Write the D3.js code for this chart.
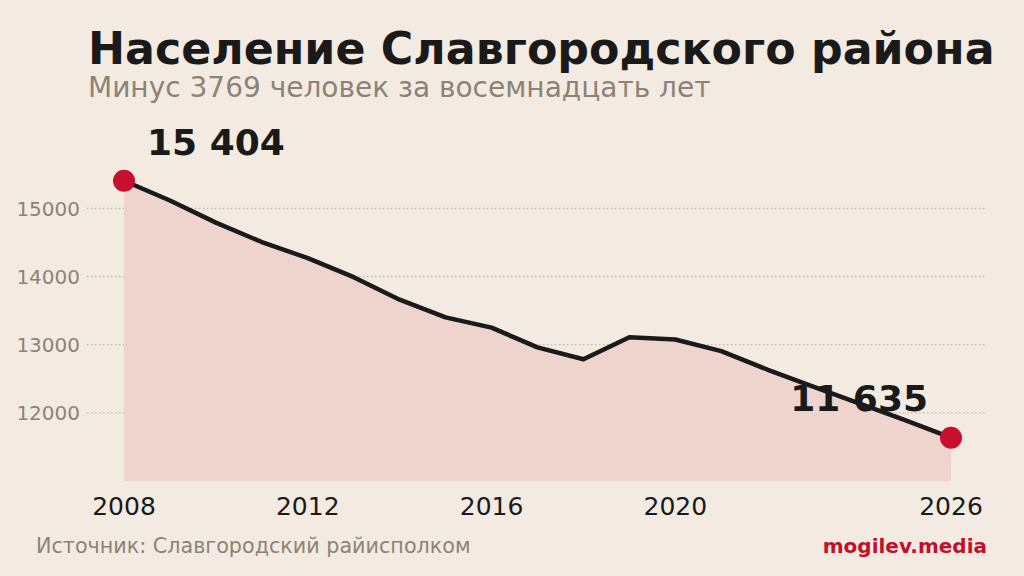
<!DOCTYPE html>
<html>
<head>
<meta charset="utf-8">
<script src="https://cdn.jsdelivr.net/npm/d3@7"></script>
<style>
  html, body { margin: 0; padding: 0; background: #f3ebe1; }
  svg { display: block; }
  text { font-family: "DejaVu Sans", sans-serif; }
</style>
</head>
<body>
<svg id="chart" width="1024" height="576"></svg>
<script>
const years = [2008, 2009, 2010, 2011, 2012, 2013, 2014, 2015, 2016, 2017, 2018, 2019, 2020, 2021, 2022, 2023, 2024, 2025, 2026];
const population = [15404, 15115, 14790, 14505, 14270, 13990, 13660, 13400, 13250, 12960, 12786, 13109, 13075, 12905, 12635, 12385, 12140, 11893, 11635];
const yTicks = [12000, 13000, 14000, 15000];
const xTicks = [2008, 2012, 2016, 2020, 2026];
const titleText = "Население Славгородского района";
const subtitleText = "Минус 3769 человек за восемнадцать лет";
const sourceText = "Источник: Славгородский райисполком";
const brandText = "mogilev.media";

const svg = d3.select("#chart");
svg.append("rect").attr("width", 1024).attr("height", 576).attr("fill", "#f3ebe1");

const x = d3.scaleLinear().domain([2008, 2026]).range([124, 951]);
const y = d3.scaleLinear().domain([11000, 15000]).range([481, 208.3]);

// gridlines
svg.append("g").selectAll("line").data(yTicks).join("line")
  .attr("x1", 87).attr("x2", 987)
  .attr("y1", d => y(d)).attr("y2", d => y(d))
  .attr("stroke", "#c2b6a9").attr("stroke-width", 1.3)
  .attr("stroke-dasharray", "1.5,2.5");

// y labels
svg.append("g").selectAll("text").data(yTicks).join("text")
  .attr("x", 80).attr("y", d => y(d) + 7.5)
  .attr("text-anchor", "end")
  .attr("font-size", 20).attr("fill", "#8c8378")
  .text(d => d);

const data = years.map((yr, i) => ({ yr, v: population[i] }));

// area
svg.append("path").datum(data)
  .attr("d", d3.area().x(d => x(d.yr)).y0(y(11000)).y1(d => y(d.v)))
  .attr("fill", "#efd4cd");

// line
svg.append("path").datum(data)
  .attr("d", d3.line().x(d => x(d.yr)).y(d => y(d.v)))
  .attr("fill", "none").attr("stroke", "#1a1a1a")
  .attr("stroke-width", 4.5).attr("stroke-linejoin", "round");

// end dots
const ends = [data[0], data[data.length - 1]];
svg.append("g").selectAll("circle").data(ends).join("circle")
  .attr("cx", d => x(d.yr)).attr("cy", d => y(d.v)).attr("r", 11)
  .attr("fill", "#c8102e");

// value labels
const fmt = v => d3.format(",")(v).replace(",", " ");
svg.append("text")
  .attr("x", x(data[0].yr) + 23).attr("y", y(data[0].v) - 26)
  .attr("font-size", 36).attr("font-weight", "bold").attr("fill", "#1a1a1a")
  .text(fmt(data[0].v));
svg.append("text")
  .attr("x", x(data[data.length - 1].yr) - 23).attr("y", y(data[data.length - 1].v) - 27)
  .attr("text-anchor", "end")
  .attr("font-size", 36).attr("font-weight", "bold").attr("fill", "#1a1a1a")
  .text(fmt(data[data.length - 1].v));

// x labels
svg.append("g").selectAll("text").data(xTicks).join("text")
  .attr("x", d => x(d)).attr("y", 515)
  .attr("text-anchor", "middle")
  .attr("font-size", 25).attr("fill", "#1a1a1a")
  .text(d => d);

// titles
svg.append("text").attr("x", 88).attr("y", 64)
  .attr("font-size", 44.3).attr("font-weight", "bold").attr("fill", "#1a1a1a")
  .text(titleText);
svg.append("text").attr("x", 88).attr("y", 97)
  .attr("font-size", 28).attr("fill", "#8c8378")
  .text(subtitleText);

// footer
svg.append("text").attr("x", 36).attr("y", 553)
  .attr("font-size", 20.7).attr("fill", "#8c8378")
  .text(sourceText);
svg.append("text").attr("x", 987).attr("y", 553)
  .attr("text-anchor", "end")
  .attr("font-size", 20).attr("font-weight", "bold").attr("fill", "#c0102e")
  .text(brandText);
</script>
</body>
</html>
